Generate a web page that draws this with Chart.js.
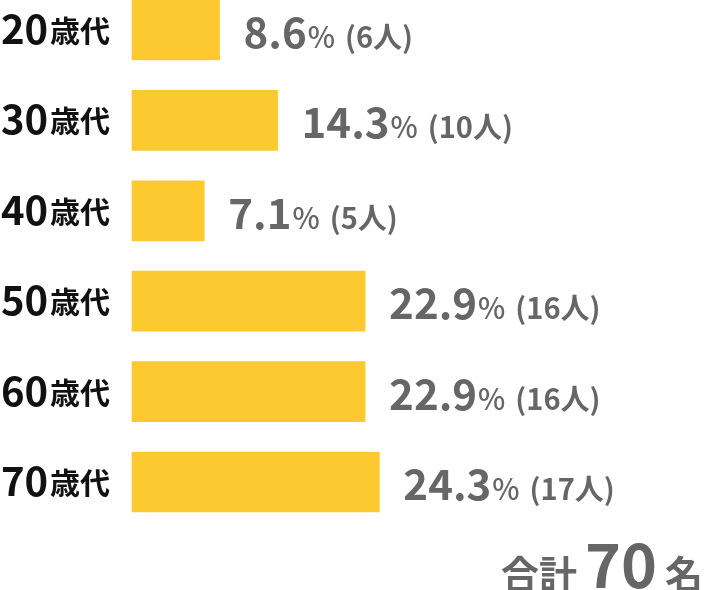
<!DOCTYPE html>
<html>
<head>
<meta charset="utf-8">
<script src="https://cdn.jsdelivr.net/npm/chart.js@4.4.0/dist/chart.umd.min.js"></script>
<style>
  html, body { margin: 0; padding: 0; background: #fff; }
  #wrap { position: relative; width: 704px; height: 590px; overflow: hidden; }
  #total {
    position: absolute; right: 1px; bottom: -2px;
    font-family: "Noto Sans CJK JP"; font-weight: 700; color: #666;
    white-space: nowrap; line-height: 1;
  }
  #total .kj { font-size: 38px; }
  #total .num { font-size: 61px; display: inline-block; margin: 0 8px 0 8px; }
</style>
</head>
<body>
<div id="wrap">
  <canvas id="graphique" width="704" height="590"></canvas>
  <div id="total"><span class="kj">合計</span><span class="num">70</span><span class="kj">名</span></div>
</div>
<script>
var ages = ["20", "30", "40", "50", "60", "70"];
var suffixe = "歳代";
var pourcentages = [8.6, 14.3, 7.1, 22.9, 22.9, 24.3];
var personnes = [6, 10, 5, 16, 16, 17];
var total = 70;

var couleurBarre = "#FCC930";
var couleurTexte = "#666666";
var police = '"Noto Sans CJK JP", "Noto Sans", sans-serif';

var etiquettesPlugin = {
  id: "etiquettes",
  afterDatasetsDraw: function(chart) {
    var ctx = chart.ctx;
    var yScale = chart.scales.y;
    var meta = chart.getDatasetMeta(0);
    ctx.save();
    ctx.textBaseline = "alphabetic";
    ctx.textAlign = "left";
    for (var i = 0; i < ages.length; i++) {
      var y = yScale.getPixelForValue(i);
      // libellés à gauche
      ctx.fillStyle = "#111";
      ctx.font = "700 40px " + police;
      ctx.fillText(ages[i], 1, y + 14);
      ctx.font = "700 30px " + police;
      ctx.fillText(suffixe, 50, y + 12);

      // valeurs à droite des barres
      var x = meta.data[i].x + 24;
      ctx.fillStyle = couleurTexte;
      ctx.font = "700 42px " + police;
      var txt = pourcentages[i].toFixed(1);
      ctx.fillText(txt, x, y + 18);
      x += ctx.measureText(txt).width + 1;
      ctx.font = "500 29px " + police;
      ctx.fillText("%", x, y + 18);
      x += ctx.measureText("%").width + 10;
      ctx.font = "700 29px " + police;
      ctx.fillText("(" + personnes[i] + "人)", x, y + 18);
    }
    ctx.restore();
  }
};

var ctx = document.getElementById("graphique").getContext("2d");
var chart = new Chart(ctx, {
  type: "bar",
  data: {
    labels: ages,
    datasets: [{
      data: pourcentages,
      backgroundColor: couleurBarre,
      barThickness: 60,
      clip: false
    }]
  },
  options: {
    indexAxis: "y",
    responsive: false,
    animation: false,
    layout: { padding: { top: 30, bottom: 108, left: 0, right: 63 } },
    plugins: { legend: { display: false }, tooltip: { enabled: false } },
    scales: {
      x: { display: false, min: 0, max: 50 },
      y: {
        offset: false,
        grid: { display: false },
        border: { display: false },
        ticks: { display: false },
        afterFit: function(scale) { scale.width = 132; }
      }
    }
  },
  plugins: [etiquettesPlugin]
});
</script>
</body>
</html>
